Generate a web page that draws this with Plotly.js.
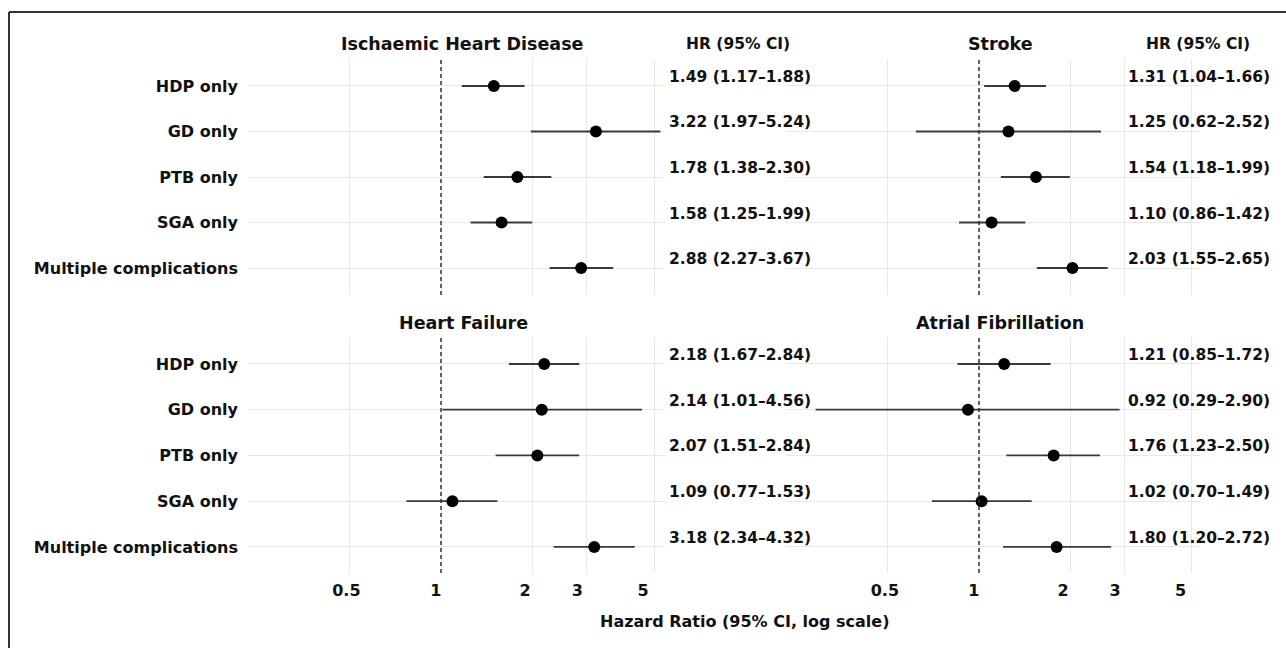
<!DOCTYPE html>
<html>
<head>
<meta charset="utf-8">
<script src="https://cdn.plot.ly/plotly-3.0.1.min.js"></script>
<style>html,body{margin:0;padding:0;background:#fff;}#chart{width:1286px;height:648px;}</style>
</head>
<body>
<div id="chart"></div>
<script>
const categories = ["HDP only", "GD only", "PTB only", "SGA only", "Multiple complications"];
const panelTitles = ["Ischaemic Heart Disease", "Stroke", "Heart Failure", "Atrial Fibrillation"];
const tickValues = [0.5, 1, 2, 3, 5];
const tickLabels = ["0.5", "1", "2", "3", "5"];

const ihdHR = [1.49, 3.22, 1.78, 1.58, 2.88];
const ihdLo = [1.17, 1.97, 1.38, 1.25, 2.27];
const ihdHi = [1.88, 5.24, 2.30, 1.99, 3.67];

const strokeHR = [1.31, 1.25, 1.54, 1.10, 2.03];
const strokeLo = [1.04, 0.62, 1.18, 0.86, 1.55];
const strokeHi = [1.66, 2.52, 1.99, 1.42, 2.65];

const hfHR = [2.18, 2.14, 2.07, 1.09, 3.18];
const hfLo = [1.67, 1.01, 1.51, 0.77, 2.34];
const hfHi = [2.84, 4.56, 2.84, 1.53, 4.32];

const afHR = [1.21, 0.92, 1.76, 1.02, 1.80];
const afLo = [0.85, 0.29, 1.23, 0.70, 1.20];
const afHi = [1.72, 2.90, 2.50, 1.49, 2.72];

const W = 1286, H = 648;
const px = v => v / W;
const py = v => 1 - v / H;
const FONT = "DejaVu Sans";
const ink = "#111111";

const panels = [
  {hr: ihdHR, lo: ihdLo, hi: ihdHi, xa: "x", ya: "y"},
  {hr: strokeHR, lo: strokeLo, hi: strokeHi, xa: "x2", ya: "y2"},
  {hr: hfHR, lo: hfLo, hi: hfHi, xa: "x3", ya: "y3"},
  {hr: afHR, lo: afLo, hi: afHi, xa: "x4", ya: "y4"}
];

const traces = panels.map(p => ({
  type: "scatter", mode: "markers",
  x: p.hr, y: categories, xaxis: p.xa, yaxis: p.ya,
  marker: {color: "#000", size: 12},
  error_x: {
    type: "data", symmetric: false,
    array: p.hi.map((h, i) => h - p.hr[i]),
    arrayminus: p.lo.map((l, i) => p.hr[i] - l),
    width: 0, thickness: 1.8, color: "#3a3a3a"
  },
  showlegend: false, hoverinfo: "skip"
}));
// empty traces to register the tick-label axes
traces.push({type: "scatter", x: [], y: [], xaxis: "x5", yaxis: "y3", showlegend: false, hoverinfo: "skip"});
traces.push({type: "scatter", x: [], y: [], xaxis: "x6", yaxis: "y4", showlegend: false, hoverinfo: "skip"});

const gridCol = "#e8e8e8";
const leftDom = [px(248), px(665)];
const rightDom = [px(786), px(1200)];
const topDom = [py(295), py(59)];
const botDom = [py(573), py(337)];
const leftRange = [(248 - 441) / 305, (665 - 441) / 305];
const rightRange = [(786 - 979) / 304, (1200 - 979) / 304];
const catOrder = categories.slice().reverse();

function xax(dom, range, anchor) {
  return {type: "log", domain: dom, range: range, anchor: anchor,
    tickvals: tickValues, ticktext: tickLabels, showticklabels: false,
    showgrid: true, gridcolor: gridCol, gridwidth: 1, zeroline: false, showline: false, ticks: ""};
}
function yax(dom, range, anchor, labels) {
  return {type: "category", categoryorder: "array", categoryarray: catOrder,
    domain: dom, range: range, anchor: anchor, showticklabels: labels,
    showgrid: true, gridcolor: gridCol, gridwidth: 1, zeroline: false, showline: false, ticks: "",
    ticklabelstandoff: 9,
    tickfont: {family: FONT, size: 16, weight: "bold", color: ink}};
}

const layout = {
  width: W, height: H,
  margin: {l: 0, r: 0, t: 0, b: 0},
  paper_bgcolor: "#fff", plot_bgcolor: "rgba(0,0,0,0)",
  font: {family: FONT, color: ink},
  xaxis: xax(leftDom, leftRange, "y"),
  xaxis2: xax(rightDom, rightRange, "y2"),
  xaxis3: xax(leftDom, leftRange, "y3"),
  xaxis4: xax(rightDom, rightRange, "y4"),
  xaxis5: {type: "log", overlaying: "x3", anchor: "y3", side: "bottom",
    range: [(248 - 435.7) / 296.6, (665 - 435.7) / 296.6],
    tickvals: tickValues, ticktext: tickLabels, showgrid: false, zeroline: false, showline: false, ticks: "",
    ticklabelstandoff: 6, tickfont: {family: FONT, size: 16, weight: "bold", color: ink}},
  xaxis6: {type: "log", overlaying: "x4", anchor: "y4", side: "bottom",
    range: [(786 - 973.9) / 295.8, (1200 - 973.9) / 295.8],
    tickvals: tickValues, ticktext: tickLabels, showgrid: false, zeroline: false, showline: false, ticks: "",
    ticklabelstandoff: 6, tickfont: {family: FONT, size: 16, weight: "bold", color: ink}},
  yaxis: yax(topDom, [-0.593, 4.593], "x", true),
  yaxis2: yax(topDom, [-0.593, 4.593], "x2", false),
  yaxis3: yax(botDom, [-0.57, 4.59], "x3", true),
  yaxis4: yax(botDom, [-0.57, 4.59], "x4", false),
  shapes: [],
  annotations: []
};

// reference lines at HR = 1
["x", "x2", "x3", "x4"].forEach((xa, i) => {
  layout.shapes.push({type: "line", xref: xa, yref: ["y", "y2", "y3", "y4"][i] + " domain",
    x0: 1, x1: 1, y0: 0, y1: 1, line: {color: "#333", width: 1.5, dash: "4px,3px"}});
});
// outer frame (top and left edges)
layout.shapes.push({type: "line", xref: "paper", yref: "paper", x0: px(9), x1: 1, y0: py(12), y1: py(12), line: {color: "#333", width: 2}});
layout.shapes.push({type: "line", xref: "paper", yref: "paper", x0: px(9), x1: px(9), y0: py(12), y1: 0, line: {color: "#333", width: 2}});

// panel titles
const titlePos = [[462, 44], [1000, 44], [463, 323], [1000, 323]];
panelTitles.forEach((t, i) => {
  layout.annotations.push({text: t, xref: "paper", yref: "paper", x: px(titlePos[i][0]), y: py(titlePos[i][1]),
    xanchor: "center", yanchor: "middle", showarrow: false,
    font: {family: FONT, size: 17.5, weight: "bold", color: ink}});
});
// HR headers
[[738, 44], [1198, 44]].forEach(p => {
  layout.annotations.push({text: "HR (95% CI)", xref: "paper", yref: "paper", x: px(p[0]), y: py(p[1]),
    xanchor: "center", yanchor: "middle", showarrow: false,
    font: {family: FONT, size: 15.5, weight: "bold", color: ink}});
});
// HR text values
const textX = [667, 1126, 667, 1126];
panels.forEach((p, k) => {
  categories.forEach((c, i) => {
    layout.annotations.push({
      text: p.hr[i].toFixed(2) + " (" + p.lo[i].toFixed(2) + "\u2013" + p.hi[i].toFixed(2) + ")",
      xref: "paper", yref: p.ya, x: px(textX[k]), y: c, yshift: 9,
      xanchor: "left", yanchor: "middle", showarrow: false,
      font: {family: FONT, size: 15.5, weight: "bold", color: ink}
    });
  });
});
// x-axis title
layout.annotations.push({text: "Hazard Ratio (95% CI, log scale)", xref: "paper", yref: "paper",
  x: px(745), y: py(621), xanchor: "center", yanchor: "middle", showarrow: false,
  font: {family: FONT, size: 16, weight: "bold", color: ink}});

Plotly.newPlot("chart", traces, layout, {staticPlot: true, displayModeBar: false});
</script>
</body>
</html>
